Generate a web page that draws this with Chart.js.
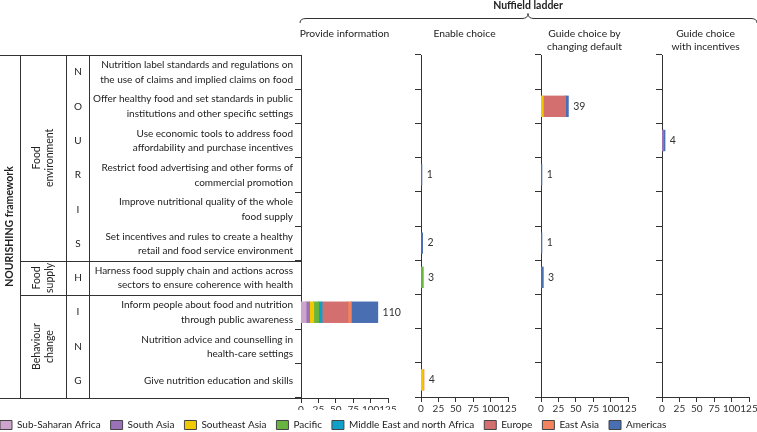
<!DOCTYPE html>
<html>
<head>
<meta charset="utf-8">
<script src="https://cdn.jsdelivr.net/npm/chart.js@4.4.0/dist/chart.umd.min.js"></script>
<style>
  html, body { margin: 0; padding: 0; background: #fff; overflow: hidden; }
  body { width: 757px; height: 432px; position: relative; }
  canvas { position: absolute; top: 0; }
</style>
</head>
<body>
<canvas id="panel0" width="767" height="440" style="left:-10px"></canvas>
<canvas id="panel1" width="137" height="432" style="left:401px"></canvas>
<canvas id="panel2" width="137" height="432" style="left:521px"></canvas>
<canvas id="panel3" width="137" height="432" style="left:642px"></canvas>
<script>
(function () {
  "use strict";

  // NOURISHING rows, top to bottom
  const letters = ['N', 'O', 'U', 'R', 'I', 'S', 'H', 'I', 'N', 'G'];
  const policies = [
    ['Nutrition label standards and regulations on', 'the use of claims and implied claims on food'],
    ['Offer healthy food and set standards in public', 'institutions and other specific settings'],
    ['Use economic tools to address food', 'affordability and purchase incentives'],
    ['Restrict food advertising and other forms of', 'commercial promotion'],
    ['Improve nutritional quality of the whole', 'food supply'],
    ['Set incentives and rules to create a healthy', 'retail and food service environment'],
    ['Harness food supply chain and actions across', 'sectors to ensure coherence with health'],
    ['Inform people about food and nutrition', 'through public awareness'],
    ['Nutrition advice and counselling in', 'health-care settings'],
    'Give nutrition education and skills'
  ];
  const groupNames = [['Food', 'environment'], ['Food', 'supply'], ['Behaviour', 'change']];
  const groupSizes = [6, 1, 3];

  const regions = ['Sub-Saharan Africa', 'South Asia', 'Southeast Asia', 'Pacific',
    'Middle East and north Africa', 'Europe', 'East Asia', 'Americas'];
  const panelTitles = [['Provide information'], ['Enable choice'],
    ['Guide choice by', 'changing default'], ['Guide choice', 'with incentives']];
  const xTicks = [0, 25, 50, 75, 100, 125];

  // one line per row (N..G), one value per region in the order above
  const provideInformation = [
    [0, 0, 0, 0, 0, 0, 0, 0],
    [0, 0, 0, 0, 0, 0, 0, 0],
    [0, 0, 0, 0, 0, 0, 0, 0],
    [0, 0, 0, 0, 0, 0, 0, 0],
    [0, 0, 0, 0, 0, 0, 0, 0],
    [0, 0, 0, 0, 0, 0, 0, 0],
    [0, 0, 0, 0, 0, 0, 0, 0],
    [7, 5, 6, 7, 5, 37, 5, 38],
    [0, 0, 0, 0, 0, 0, 0, 0],
    [0, 0, 0, 0, 0, 0, 0, 0]
  ];
  const enableChoice = [
    [0, 0, 0, 0, 0, 0, 0, 0],
    [0, 0, 0, 0, 0, 0, 0, 0],
    [0, 0, 0, 0, 0, 0, 0, 0],
    [0, 0, 0, 0, 0, 0, 0, 1],
    [0, 0, 0, 0, 0, 0, 0, 0],
    [0, 0, 0, 0, 0, 0, 0, 2],
    [0, 0, 0, 3, 0, 0, 0, 0],
    [0, 0, 0, 0, 0, 0, 0, 0],
    [0, 0, 0, 0, 0, 0, 0, 0],
    [0, 0, 3, 0, 0, 0, 1, 0]
  ];
  const guideDefault = [
    [0, 0, 0, 0, 0, 0, 0, 0],
    [0, 0, 3, 0, 0, 32, 0, 4],
    [0, 0, 0, 0, 0, 0, 0, 0],
    [0, 0, 0, 0, 0, 0, 0, 1],
    [0, 0, 0, 0, 0, 0, 0, 0],
    [0, 0, 0, 0, 0, 0, 0, 1],
    [0, 0, 0, 0, 0, 0, 0, 3],
    [0, 0, 0, 0, 0, 0, 0, 0],
    [0, 0, 0, 0, 0, 0, 0, 0],
    [0, 0, 0, 0, 0, 0, 0, 0]
  ];
  const guideIncentives = [
    [0, 0, 0, 0, 0, 0, 0, 0],
    [0, 0, 0, 0, 0, 0, 0, 0],
    [0, 2, 0, 0, 0, 0, 0, 2],
    [0, 0, 0, 0, 0, 0, 0, 0],
    [0, 0, 0, 0, 0, 0, 0, 0],
    [0, 0, 0, 0, 0, 0, 0, 0],
    [0, 0, 0, 0, 0, 0, 0, 0],
    [0, 0, 0, 0, 0, 0, 0, 0],
    [0, 0, 0, 0, 0, 0, 0, 0],
    [0, 0, 0, 0, 0, 0, 0, 0]
  ];

  // colours
  const regionColours = ['#cda4cc', '#9a70b6', '#f1c900', '#69b43f',
    '#0fa0c9', '#d46f70', '#f3835e', '#4a6eb2'];
  const ink = '#222222';
  const lineColour = '#333333';

  Chart.defaults.font.family = 'Lato';
  Chart.defaults.color = ink;

  // shift of the first canvas (it starts 10px left of the page)
  const shift = 10;
  // table column rules, page x
  const tableCols = [20, 66, 89];

  function datasetsFor(counts) {
    return regions.map((name, r) => ({
      label: name,
      // empty cells are left out so they leave no sliver on the axis
      data: counts.map(row => row[r] || null),
      backgroundColor: regionColours[r],
      borderWidth: 0,
      inflateAmount: 0.6,
      barPercentage: 0.59,
      categoryPercentage: 1
    }));
  }

  // title above each panel
  const panelTitle = {
    id: 'panelTitle',
    afterDraw(chart, args, opts) {
      const ctx = chart.ctx;
      const area = chart.chartArea;
      ctx.save();
      ctx.font = '10.3px Lato';
      ctx.fillStyle = ink;
      ctx.textAlign = 'center';
      ctx.textBaseline = 'middle';
      opts.lines.forEach((t, i) => ctx.fillText(t, (area.left + area.right) / 2, 34 + i * 13));
      ctx.restore();
    }
  };

  // total at the end of each bar
  const totalLabels = {
    id: 'totalLabels',
    afterDatasetsDraw(chart) {
      const {ctx, scales: {x, y}} = chart;
      ctx.save();
      ctx.font = '10.5px Lato';
      ctx.fillStyle = '#333';
      ctx.textBaseline = 'middle';
      letters.forEach((_, i) => {
        const total = chart.data.datasets.reduce((s, d) => s + (d.data[i] || 0), 0);
        if (total > 0) ctx.fillText(String(total), x.getPixelForValue(total) + 5, y.getPixelForValue(i));
      });
      ctx.restore();
    }
  };

  // NOURISHING table on the left and the Nuffield ladder header
  const framework = {
    id: 'framework',
    afterDraw(chart) {
      const {ctx, chartArea: area, scales: {y}} = chart;
      const top = Math.round(area.top) + 0.5;
      const bottom = Math.round(area.bottom) + 0.5;
      const right = area.left;
      const rowH = (area.bottom - area.top) / letters.length;
      ctx.save();
      ctx.strokeStyle = lineColour;
      ctx.lineWidth = 1;
      const rule = (x1, y1, x2, y2) => {
        ctx.beginPath(); ctx.moveTo(x1, y1); ctx.lineTo(x2, y2); ctx.stroke();
      };
      rule(shift, top, right, top);
      rule(shift, bottom, right, bottom);
      tableCols.forEach(c => rule(c + shift + 0.5, top, c + shift + 0.5, bottom));

      ctx.fillStyle = ink;
      ctx.textBaseline = 'middle';
      ctx.textAlign = 'center';

      // group rules and rotated group names
      let k = 0;
      ctx.font = '10.5px Lato';
      groupSizes.forEach((n, g) => {
        const y0 = area.top + k * rowH;
        k += n;
        const y1 = area.top + k * rowH;
        if (g < groupSizes.length - 1) {
          const yy = Math.round(y1) + 0.5;
          rule(tableCols[0] + shift, yy, right, yy);
        }
        ctx.save();
        ctx.translate((tableCols[0] + tableCols[1]) / 2 + shift + 0.5, (y0 + y1) / 2);
        ctx.rotate(-Math.PI / 2);
        groupNames[g].forEach((t, i) => ctx.fillText(t, 0, (i - 0.5) * 13));
        ctx.restore();
      });

      // letters
      ctx.font = '10px Lato';
      letters.forEach((l, i) => {
        ctx.fillText(l, (tableCols[1] + tableCols[2]) / 2 + shift + 0.5, y.getPixelForValue(i));
      });

      // framework name
      ctx.save();
      ctx.font = 'bold 10.5px Lato';
      ctx.translate(shift + 10, (area.top + area.bottom) / 2);
      ctx.rotate(-Math.PI / 2);
      ctx.fillText('NOURISHING framework', 0, 0);
      ctx.restore();

      // header with brace
      ctx.font = 'bold 10.5px Lato';
      ctx.fillText('Nuffield ladder', 528 + shift, 6);
      const bx0 = 300 + shift, bx1 = 757 + shift, mid = 528 + shift;
      ctx.beginPath();
      ctx.moveTo(bx0, 23);
      ctx.quadraticCurveTo(bx0, 18.5, bx0 + 6, 18.5);
      ctx.lineTo(mid - 6, 18.5);
      ctx.quadraticCurveTo(mid, 18.5, mid, 13.5);
      ctx.quadraticCurveTo(mid, 18.5, mid + 6, 18.5);
      ctx.lineTo(bx1 - 6, 18.5);
      ctx.quadraticCurveTo(bx1, 18.5, bx1, 23);
      ctx.stroke();
      ctx.restore();
    }
  };

  const panels = [provideInformation, enableChoice, guideDefault, guideIncentives];

  panels.forEach((counts, p) => {
    const first = p === 0;
    const scales = {
      x: {
        stacked: true,
        min: xTicks[0],
        max: xTicks[xTicks.length - 1],
        afterBuildTicks: s => { s.ticks = xTicks.map(v => ({value: v})); },
        afterFit: s => { s.height = first ? 12 : 35; },
        ticks: {autoSkip: false, maxRotation: 0, minRotation: 0, padding: 1,
          font: {size: 10}, color: '#333'},
        grid: {drawOnChartArea: false, drawTicks: true, tickLength: 5, color: lineColour},
        border: {display: true, color: lineColour}
      },
      y: {
        stacked: true,
        afterFit: s => { s.width = first ? 311 : 20; },
        ticks: {display: first, autoSkip: false, padding: 2,
          font: {size: 10, lineHeight: '14.5px'}, color: ink},
        grid: {offset: true, drawOnChartArea: false, drawTicks: true, tickLength: 6, color: lineColour},
        border: {display: true, color: lineColour}
      }
    };
    if (first) {
      // empty right axis keeps the first panel narrow while the legend spans the page
      scales.gap = {
        type: 'linear',
        position: 'right',
        grid: {display: false},
        border: {display: false},
        ticks: {display: false},
        afterFit: s => { s.width = 369; }
      };
    }
    new Chart(document.getElementById('panel' + p), {
      type: 'bar',
      data: {
        labels: first ? policies : letters,
        datasets: datasetsFor(counts)
      },
      options: {
        indexAxis: 'y',
        responsive: false,
        animation: false,
        events: [],
        layout: {
          padding: {top: 55, right: first ? 0 : 30, left: 0, bottom: 0}
        },
        scales: scales,
        plugins: {
          legend: {
            display: first,
            position: 'bottom',
            align: 'start',
            labels: {
              boxWidth: 12,
              boxHeight: 9,
              padding: 10,
              font: {size: 10},
              color: ink,
              generateLabels: chart => Chart.defaults.plugins.legend.labels.generateLabels(chart)
                .map(l => Object.assign(l, {strokeStyle: '#444', lineWidth: 1}))
            }
          },
          tooltip: {enabled: false},
          panelTitle: {lines: panelTitles[p]}
        }
      },
      plugins: first ? [panelTitle, totalLabels, framework] : [panelTitle, totalLabels]
    });
  });
})();
</script>
</body>
</html>
